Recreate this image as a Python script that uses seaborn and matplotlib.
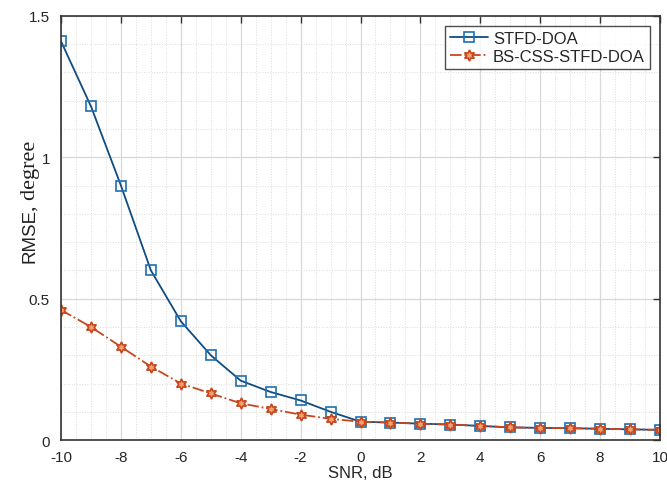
import matplotlib

matplotlib.use("Agg")
import matplotlib.pyplot as plt
import pandas as pd
import seaborn as sns
from matplotlib.ticker import MultipleLocator

snr_db = list(range(-10, 11))
rmse_stfd = [1.41, 1.18, 0.90, 0.60, 0.42, 0.30, 0.21, 0.17, 0.14, 0.10, 0.065,
             0.062, 0.058, 0.055, 0.050, 0.045, 0.043, 0.042, 0.040, 0.038, 0.036]
rmse_bs = [0.46, 0.40, 0.33, 0.26, 0.20, 0.165, 0.13, 0.11, 0.09, 0.075, 0.065,
           0.062, 0.058, 0.055, 0.050, 0.045, 0.043, 0.042, 0.040, 0.038, 0.036]
methods = ["STFD-DOA", "BS-CSS-STFD-DOA"]

df = pd.concat([
    pd.DataFrame({"SNR": snr_db, "RMSE": rmse_stfd, "Method": methods[0]}),
    pd.DataFrame({"SNR": snr_db, "RMSE": rmse_bs, "Method": methods[1]}),
], ignore_index=True)

sns.set_theme(style="white")
SANS = ["Liberation Sans", "DejaVu Sans"]
SERIF = ["Liberation Serif", "DejaVu Serif"]
plt.rcParams["font.family"] = SANS
plt.rcParams["axes.unicode_minus"] = False

W, H = 667, 481
fig = plt.figure(figsize=(W / 100, H / 100), dpi=100)
ax = fig.add_axes([0.0915, 0.083, 0.898, 0.882])

styles = {
    methods[0]: dict(color="#0f4c81", ls="-", marker="s", mec="#1f6fb0", mfc="none", ms=6.5),
    methods[1]: dict(color="#c8461c", ls="-.", marker=(6, 1, 0), mec="#c8461c",
                     mfc="#f0a070", ms=8),
}
for m in methods:
    st = styles[m]
    sns.lineplot(data=df[df["Method"] == m], x="SNR", y="RMSE", ax=ax, label=m,
                 color=st["color"], linestyle=st["ls"], marker=st["marker"],
                 markeredgecolor=st["mec"], markerfacecolor=st["mfc"],
                 markersize=st["ms"], markeredgewidth=1.2, linewidth=1.3)

ax.set_xlim(-10, 10)
ax.set_ylim(0, 1.5)
ax.xaxis.set_major_locator(MultipleLocator(2))
ax.xaxis.set_minor_locator(MultipleLocator(0.5))
ax.yaxis.set_major_locator(MultipleLocator(0.5))
ax.yaxis.set_minor_locator(MultipleLocator(0.1))
ax.set_yticks([0, 0.5, 1, 1.5], ["0", "0.5", "1", "1.5"])
ax.grid(which="major", color="#d8d8d8", lw=0.9, ls="-")
ax.grid(which="minor", color="#dcdcdc", lw=0.7, ls=":")
ax.tick_params(which="major", direction="in", top=True, right=True, length=5,
               labelsize=11, color="#333333", width=1)
ax.tick_params(axis="x", which="major", pad=7)
ax.tick_params(axis="y", which="major", pad=8)
ax.tick_params(which="minor", length=0)
for s in ax.spines.values():
    s.set_color("#333333")
    s.set_linewidth(1.2)

ax.set_xlabel("SNR, dB", fontsize=12, labelpad=1)
ax.set_ylabel("")

# y label mixes a sans "RMSE" with a serif ", degree"
t1 = fig.text(35 / W, (H - 263) / H, "RMSE", rotation=90, rotation_mode="anchor",
              ha="left", va="baseline", fontsize=13.5, family=SANS, color="#222222")
fig.canvas.draw()
bb = t1.get_window_extent()
fig.text(35 / W, (bb.y1 - 2) / H, ", degree", rotation=90, rotation_mode="anchor",
         ha="left", va="baseline", fontsize=16, family=SERIF, color="#222222")

leg = ax.legend(loc="upper right", fontsize=12, frameon=True, fancybox=False,
                edgecolor="#222222", borderpad=0.3, handlelength=2.3,
                handletextpad=0.3, labelspacing=0.2, borderaxespad=0.6)
leg.get_frame().set_linewidth(1.0)

fig.savefig("out.png", dpi=100)
